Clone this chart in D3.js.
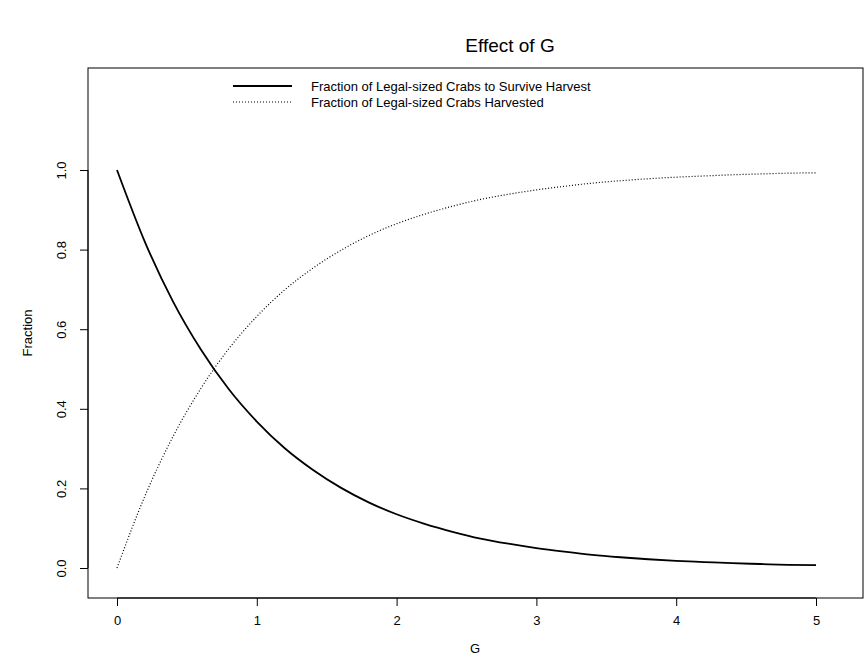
<!DOCTYPE html>
<html>
<head>
<meta charset="utf-8">
<script src="https://cdn.jsdelivr.net/npm/d3@7"></script>
<style>
  body { margin: 0; background: #fff; }
  text { font-family: "Liberation Sans", Arial, sans-serif; }
</style>
</head>
<body>
<svg id="chart"></svg>
<script>
const gValues = [0, 0.2, 0.4, 0.6, 0.8, 1.0, 1.2, 1.4, 1.6, 1.8, 2.0, 2.2, 2.4,
  2.6, 2.8, 3.0, 3.2, 3.4, 3.6, 3.8, 4.0, 4.2, 4.4, 4.6, 4.8, 5.0];
const survived = [1.000, 0.819, 0.670, 0.549, 0.449, 0.368, 0.301, 0.247, 0.202,
  0.165, 0.135, 0.111, 0.091, 0.074, 0.061, 0.050, 0.041, 0.033, 0.027, 0.022,
  0.018, 0.015, 0.012, 0.010, 0.008, 0.007];
const harvested = [0.000, 0.181, 0.330, 0.451, 0.551, 0.632, 0.699, 0.753, 0.798,
  0.835, 0.865, 0.889, 0.909, 0.926, 0.939, 0.950, 0.959, 0.967, 0.973, 0.978,
  0.982, 0.985, 0.988, 0.990, 0.992, 0.993];
const xTicks = [0, 1, 2, 3, 4, 5];
const yTicks = [0.0, 0.2, 0.4, 0.6, 0.8, 1.0];
const legendLabels = ["Fraction of Legal-sized Crabs to Survive Harvest",
  "Fraction of Legal-sized Crabs Harvested"];

const width = 864, height = 669;
const box = { left: 88, right: 863, top: 68, bottom: 598 };

const svg = d3.select("#chart").attr("width", width).attr("height", height);

const x = d3.scaleLinear().domain([0, 5]).range([117, 816]);
const y = d3.scaleLinear().domain([0, 1]).range([568, 170]);

svg.append("rect")
  .attr("x", box.left).attr("y", box.top)
  .attr("width", box.right - box.left).attr("height", box.bottom - box.top)
  .attr("fill", "none").attr("stroke", "#000");

const xAxis = svg.append("g")
  .attr("transform", `translate(0, ${box.bottom})`)
  .call(d3.axisBottom(x).tickValues(xTicks).tickSize(8).tickPadding(10).tickFormat(d3.format("d")));
xAxis.select(".domain").attr("d", `M${x(0)},0H${x(5)}`);

const yAxis = svg.append("g")
  .attr("transform", `translate(${box.left}, 0)`)
  .call(d3.axisLeft(y).tickValues(yTicks).tickSize(8).tickFormat(d3.format(".1f")));
yAxis.select(".domain").attr("d", `M0,${y(0)}V${y(1)}`);
yAxis.selectAll(".tick text")
  .attr("transform", "rotate(-90)")
  .attr("x", 0).attr("y", -22).attr("dy", 0)
  .style("text-anchor", "middle");

svg.selectAll(".tick text").attr("font-size", 13).attr("fill", "#000");

const line = d3.line().x((d, i) => x(gValues[i])).y(d => y(d)).curve(d3.curveMonotoneX);

svg.append("path").datum(survived)
  .attr("d", line).attr("fill", "none").attr("stroke", "#000").attr("stroke-width", 1.8);
svg.append("path").datum(harvested)
  .attr("d", line).attr("fill", "none").attr("stroke", "#000")
  .attr("stroke-width", 1.2).attr("stroke-dasharray", "1,2");

svg.append("text").attr("x", 510).attr("y", 52).attr("text-anchor", "middle")
  .attr("font-size", 19).text("Effect of G");
svg.append("text").attr("x", 475).attr("y", 653).attr("text-anchor", "middle")
  .attr("font-size", 13).text("G");
svg.append("text").attr("transform", "translate(32, 333) rotate(-90)")
  .attr("text-anchor", "middle").attr("font-size", 13).text("Fraction");

const legend = svg.append("g");
legendLabels.forEach((label, i) => {
  const ly = 86 + i * 16;
  legend.append("line").attr("x1", 233).attr("x2", 292).attr("y1", ly).attr("y2", ly)
    .attr("stroke", "#000").attr("stroke-width", i === 0 ? 1.8 : 1.2)
    .attr("stroke-dasharray", i === 0 ? null : "1,2");
  legend.append("text").attr("x", 311).attr("y", ly + 5).attr("font-size", 13).text(label);
});
</script>
</body>
</html>
